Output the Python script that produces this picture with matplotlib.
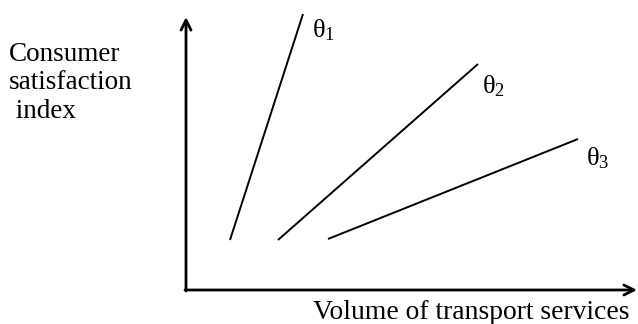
import matplotlib
matplotlib.use("Agg")
import matplotlib.pyplot as plt

# Data (in axis units, origin at the corner of the axes)
line_names = ["$\\theta_1$", "$\\theta_2$", "$\\theta_3$"]
x_start = [44, 92, 142]
y_start = [50, 50, 51]
x_end = [117, 292, 392]
y_end = [276, 226, 151]
label_x = [126, 296, 400]
label_y = [260, 204, 132]
x_label = "Volume of transport services"
y_label = "Consumer\nsatisfaction\n index"

plt.rcParams['font.family'] = ['Liberation Serif', 'DejaVu Serif']
plt.rcParams['mathtext.fontset'] = 'custom'
plt.rcParams['mathtext.rm'] = 'Liberation Serif'
plt.rcParams['mathtext.it'] = 'Liberation Serif'

fig = plt.figure(figsize=(6.38, 3.24), dpi=100)
ax = fig.add_axes([0, 0, 1, 1])
ax.set_xlim(-186, 452)
ax.set_ylim(-34, 290)
ax.axis('off')

# axes arrows
ax.annotate("", xy=(0, 273), xytext=(0, -1),
            arrowprops=dict(arrowstyle="->", lw=2.0, color="black",
                            mutation_scale=18, shrinkA=0, shrinkB=0))
ax.annotate("", xy=(451, 0), xytext=(-1, 0),
            arrowprops=dict(arrowstyle="->", lw=2.0, color="black",
                            mutation_scale=18, shrinkA=0, shrinkB=0))

for xs, ys, xe, ye, name, lx, ly in zip(x_start, y_start, x_end, y_end,
                                        line_names, label_x, label_y):
    ax.plot([xs, xe], [ys, ye], color="black", lw=1.4, solid_capstyle='butt')
    ax.text(lx, ly, name, fontsize=19, ha='left', va='center')

ax.text(127, -10, x_label, fontsize=19.9, ha='left', va='top')
ax.text(-177, 248, y_label, fontsize=19.5, ha='left', va='top', linespacing=1.18)

fig.savefig("out.png", dpi=100)
